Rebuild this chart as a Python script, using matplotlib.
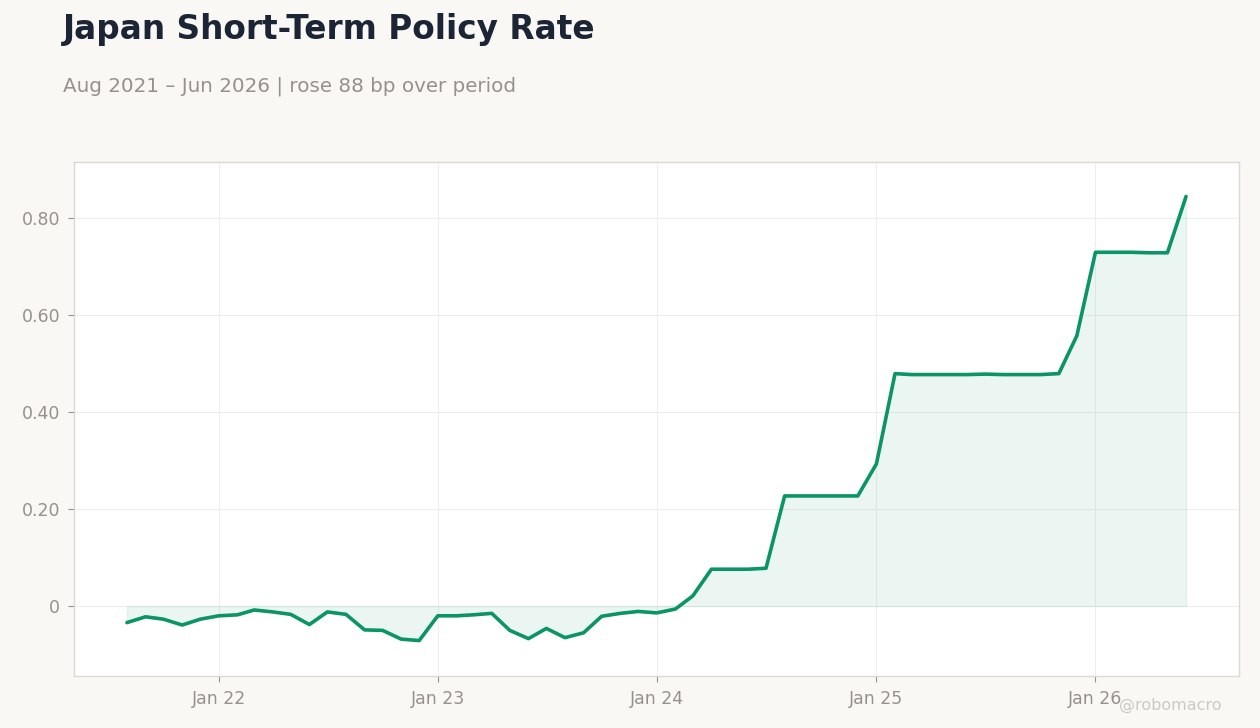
import pandas as pd
import matplotlib
matplotlib.use("Agg")
import matplotlib.pyplot as plt
import matplotlib.dates as mdates
from matplotlib.ticker import FuncFormatter

# monthly policy rate, Aug 2021 - Jun 2026 (%)
months = pd.date_range("2021-08-01", "2026-06-01", freq="MS")
rate = [
    -0.034, -0.022, -0.027, -0.039, -0.027,                     # 2021
    -0.020, -0.018, -0.008, -0.012, -0.017, -0.038,
    -0.012, -0.017, -0.049, -0.050, -0.068, -0.071,             # 2022
    -0.020, -0.020, -0.018, -0.015, -0.050, -0.067,
    -0.046, -0.065, -0.055, -0.021, -0.015, -0.011,             # 2023
    -0.014, -0.006, 0.021, 0.076, 0.076, 0.076,
    0.078, 0.227, 0.227, 0.227, 0.227, 0.227,                   # 2024
    0.293, 0.479, 0.477, 0.477, 0.477, 0.477,
    0.478, 0.477, 0.477, 0.477, 0.479, 0.557,                   # 2025
    0.729, 0.729, 0.729, 0.728, 0.728, 0.844,                   # 2026
]
yticks = [0, 0.2, 0.4, 0.6, 0.8]

green = "#0b9467"
gray = "#96918c"
bg = "#f9f8f5"

fig = plt.figure(figsize=(12.6, 7.28), dpi=100, facecolor=bg)
ax = fig.add_axes([74 / 1260, 1 - 676 / 728, 1165 / 1260, 514 / 728])
ax.set_facecolor("white")

ax.fill_between(months, rate, 0, color=green, alpha=0.08, linewidth=1)
ax.plot(months, rate, color=green, linewidth=2.6, solid_capstyle="round")

ax.set_ylim(-0.144, 0.915)
ax.set_yticks(yticks)
ax.yaxis.set_major_formatter(FuncFormatter(lambda v, p: "0" if abs(v) < 1e-9 else f"{v:.2f}"))
ax.xaxis.set_major_locator(mdates.YearLocator())
ax.xaxis.set_major_formatter(mdates.DateFormatter("Jan %y"))

ax.grid(True, color="#eeeeee", linewidth=0.8)
ax.set_axisbelow(True)
for s in ax.spines.values():
    s.set_color("#ddd8d2")
    s.set_linewidth(1)
ax.tick_params(colors=gray, labelsize=12.5, length=4, width=0.8, pad=6)
for lab in ax.get_xticklabels() + ax.get_yticklabels():
    lab.set_color(gray)

fig.text(63 / 1260, 1 - 30 / 728, "Japan Short-Term Policy Rate", fontsize=23.6,
         fontweight="bold", color="#1b2535", va="center")
fig.text(63 / 1260, 1 - 86 / 728, "Aug 2021 \u2013 Jun 2026 | rose 88 bp over period",
         fontsize=14.35, color=gray, va="center")
fig.text(1222 / 1260, 1 - 705 / 728, "@robomacro", fontsize=11.5, color="#cdc9c4",
         ha="right", va="center")

fig.savefig("out.png", dpi=100, facecolor=bg)
